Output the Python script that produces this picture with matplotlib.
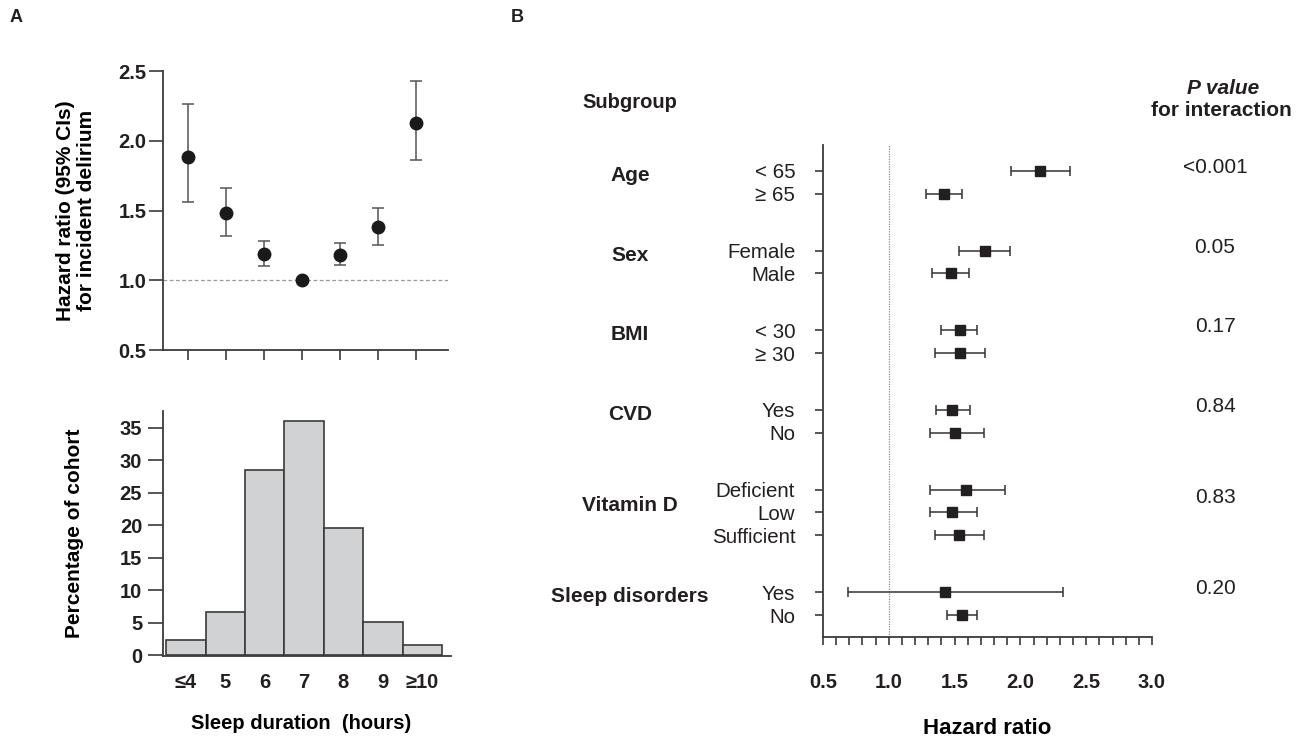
import numpy as np
import matplotlib
matplotlib.use('Agg')
import matplotlib.pyplot as plt
from matplotlib import transforms

plt.rcParams['font.family'] = ['Liberation Sans', 'DejaVu Sans']
plt.rcParams['text.color'] = '#231f20'
plt.rcParams['axes.edgecolor'] = '#3a3a3a'
plt.rcParams['xtick.color'] = '#3a3a3a'
plt.rcParams['ytick.color'] = '#3a3a3a'
plt.rcParams['xtick.labelcolor'] = '#231f20'
plt.rcParams['ytick.labelcolor'] = '#231f20'

# panel A data
sleep_labels = ['≤4', '5', '6', '7', '8', '9', '≥10']
hr_sleep = [1.88, 1.48, 1.19, 1.00, 1.18, 1.38, 2.13]
hr_sleep_lo = [1.56, 1.32, 1.10, 1.00, 1.11, 1.25, 1.86]
hr_sleep_hi = [2.26, 1.66, 1.28, 1.00, 1.27, 1.52, 2.43]
pct_cohort = [2.3, 6.7, 28.5, 36.0, 19.5, 5.1, 1.5]

# panel B data
groups = ['Age', 'Sex', 'BMI', 'CVD', 'Vitamin D', 'Sleep disorders']
subgroups = [['< 65', '≥ 65'], ['Female', 'Male'], ['< 30', '≥ 30'],
             ['Yes', 'No'], ['Deficient', 'Low', 'Sufficient'], ['Yes', 'No']]
hr = [[2.15, 1.42], [1.73, 1.47], [1.54, 1.54], [1.48, 1.50],
      [1.59, 1.48, 1.53], [1.43, 1.56]]
hr_lo = [[1.93, 1.28], [1.53, 1.33], [1.40, 1.35], [1.36, 1.31],
         [1.31, 1.31, 1.35], [0.69, 1.44]]
hr_hi = [[2.38, 1.56], [1.92, 1.61], [1.67, 1.73], [1.62, 1.72],
         [1.88, 1.67, 1.72], [2.32, 1.67]]
p_values = ['<0.001', '0.05', '0.17', '0.84', '0.83', '0.20']

W, H = 1301, 737
fig = plt.figure(figsize=(W / 100, H / 100), dpi=100)


def fx(px):
    return px / W


def fy(py):
    return 1 - py / H


# ---- A top: hazard ratios
ax1 = fig.add_axes([fx(163), fy(350), fx(448 - 163), (350 - 71) / H])
x = np.arange(len(sleep_labels))
hr_arr = np.array(hr_sleep)
yerr = [hr_arr - np.array(hr_sleep_lo), np.array(hr_sleep_hi) - hr_arr]
ax1.axhline(1.0, color='#999999', lw=0.9, ls=(0, (3, 2)), zorder=1)
ax1.errorbar(x, hr_arr, yerr=yerr, fmt='o', ms=9, color='#1a1a1a',
             ecolor='#555555', elinewidth=1.1, capsize=4.5, capthick=1.1, zorder=3)
ax1.set_xlim(-0.65, 6.85)
ax1.set_ylim(0.5, 2.5)
ax1.set_yticks([0.5, 1.0, 1.5, 2.0, 2.5])
ax1.set_yticklabels(['0.5', '1.0', '1.5', '2.0', '2.5'], fontsize=14.5, fontweight='bold')
ax1.set_xticks(x)
ax1.set_xticklabels([])
ax1.tick_params(axis='y', length=10, width=1.2, pad=2)
ax1.tick_params(axis='x', length=7, width=1.2)
for s in ['top', 'right']:
    ax1.spines[s].set_visible(False)
for s in ['left', 'bottom']:
    ax1.spines[s].set_linewidth(1.3)
ax1.set_ylabel('Hazard ratio (95% CIs)\nfor incident delirium', fontsize=15,
               fontweight='bold', linespacing=1.15)
ax1.yaxis.set_label_coords(-0.235, 0.5)

# ---- A bottom: histogram
ax2 = fig.add_axes([fx(163), fy(656), fx(451 - 163), (656 - 411) / H])
ax2.bar(x, pct_cohort, width=1.0, color='#d1d2d4', edgecolor='#3a3a3a', lw=1.2)
ax2.set_xlim(-0.58, 6.73)
ax2.set_ylim(-0.15, 37.6)
ax2.set_yticks(np.arange(0, 36, 5))
ax2.set_yticklabels([str(v) for v in range(0, 36, 5)], fontsize=14.5, fontweight='bold')
ax2.set_xticks(x)
ax2.set_xticklabels(sleep_labels, fontsize=14.5, fontweight='bold')
ax2.tick_params(axis='y', length=11, width=1.2, pad=4)
ax2.tick_params(axis='x', length=0, pad=12)
for s in ['top', 'right']:
    ax2.spines[s].set_visible(False)
for s in ['left', 'bottom']:
    ax2.spines[s].set_linewidth(1.3)
ax2.set_ylabel('Percentage of cohort', fontsize=15, fontweight='bold')
ax2.yaxis.set_label_coords(-0.275, 0.5)
ax2.set_xlabel('Sleep duration  (hours)', fontsize=14.5, fontweight='bold')
ax2.xaxis.set_label_coords(0.48, -0.235)

# ---- B forest plot
ax3 = fig.add_axes([fx(823), fy(637), fx(1152 - 823), (637 - 145) / H])
gap = 2.48
pos = []
labels = []
xs, los, his = [], [], []
group_y = []
y0 = 0.0
for g, subs in enumerate(subgroups):
    ys = [y0 + i for i in range(len(subs))]
    pos += ys
    labels += subs
    xs += hr[g]
    los += hr_lo[g]
    his += hr_hi[g]
    group_y.append(np.mean(ys))
    y0 = ys[-1] + gap
pos = np.array(pos)
xs = np.array(xs)
xerr = [xs - np.array(los), np.array(his) - xs]
ax3.axvline(1.0, color='#8a8a8a', lw=0.9, ls=(0, (1, 1)), zorder=1)
ax3.errorbar(xs, pos, xerr=xerr, fmt='s', ms=7.5, color='#231f20',
             ecolor='#333333', elinewidth=1.1, capsize=3.5, capthick=1.1, zorder=3)
ax3.set_xlim(0.5, 3.0)
ax3.set_ylim(pos[-1] + 0.96, pos[0] - 1.13)
ax3.set_yticks(pos)
ax3.set_yticklabels(labels, fontsize=14.8)
ax3.tick_params(axis='y', length=6, width=1.2, pad=14)
ax3.set_xticks(np.arange(0.5, 3.01, 0.5))
ax3.set_xticklabels(['0.5', '1.0', '1.5', '2.0', '2.5', '3.0'], fontsize=14.5,
                    fontweight='bold')
ax3.set_xticks(np.arange(0.5, 3.01, 0.1), minor=True)
ax3.tick_params(axis='x', which='both', length=6, width=1.2, pad=20)
for s in ['top', 'right']:
    ax3.spines[s].set_visible(False)
for s in ['left', 'bottom']:
    ax3.spines[s].set_linewidth(1.3)
ax3.set_xlabel('Hazard ratio', fontsize=16, fontweight='bold')
ax3.xaxis.set_label_coords(0.5, -0.165)

trans = transforms.blended_transform_factory(fig.transFigure, ax3.transData)
for g, name in enumerate(groups):
    ax3.text(fx(630), group_y[g] - 0.3, name, transform=trans, ha='center',
             va='center', fontsize=15, fontweight='bold', clip_on=False)
    ax3.text(fx(1215), group_y[g] - 0.65, p_values[g], transform=trans,
             ha='center', va='center', fontsize=15, clip_on=False)

fig.text(fx(630), fy(102), 'Subgroup', ha='center', va='center', fontsize=14.5,
         fontweight='bold')
fig.text(fx(1223), fy(88), 'P value', ha='center', va='center', fontsize=15,
         fontweight='bold', style='italic')
fig.text(fx(1221), fy(111), 'for interaction', ha='center', va='center',
         fontsize=15, fontweight='bold')
fig.text(fx(16), fy(18), 'A', ha='center', va='center', fontsize=13, fontweight='bold')
fig.text(fx(517), fy(18), 'B', ha='center', va='center', fontsize=13, fontweight='bold')

fig.savefig('out.png', dpi=100, facecolor='white')
